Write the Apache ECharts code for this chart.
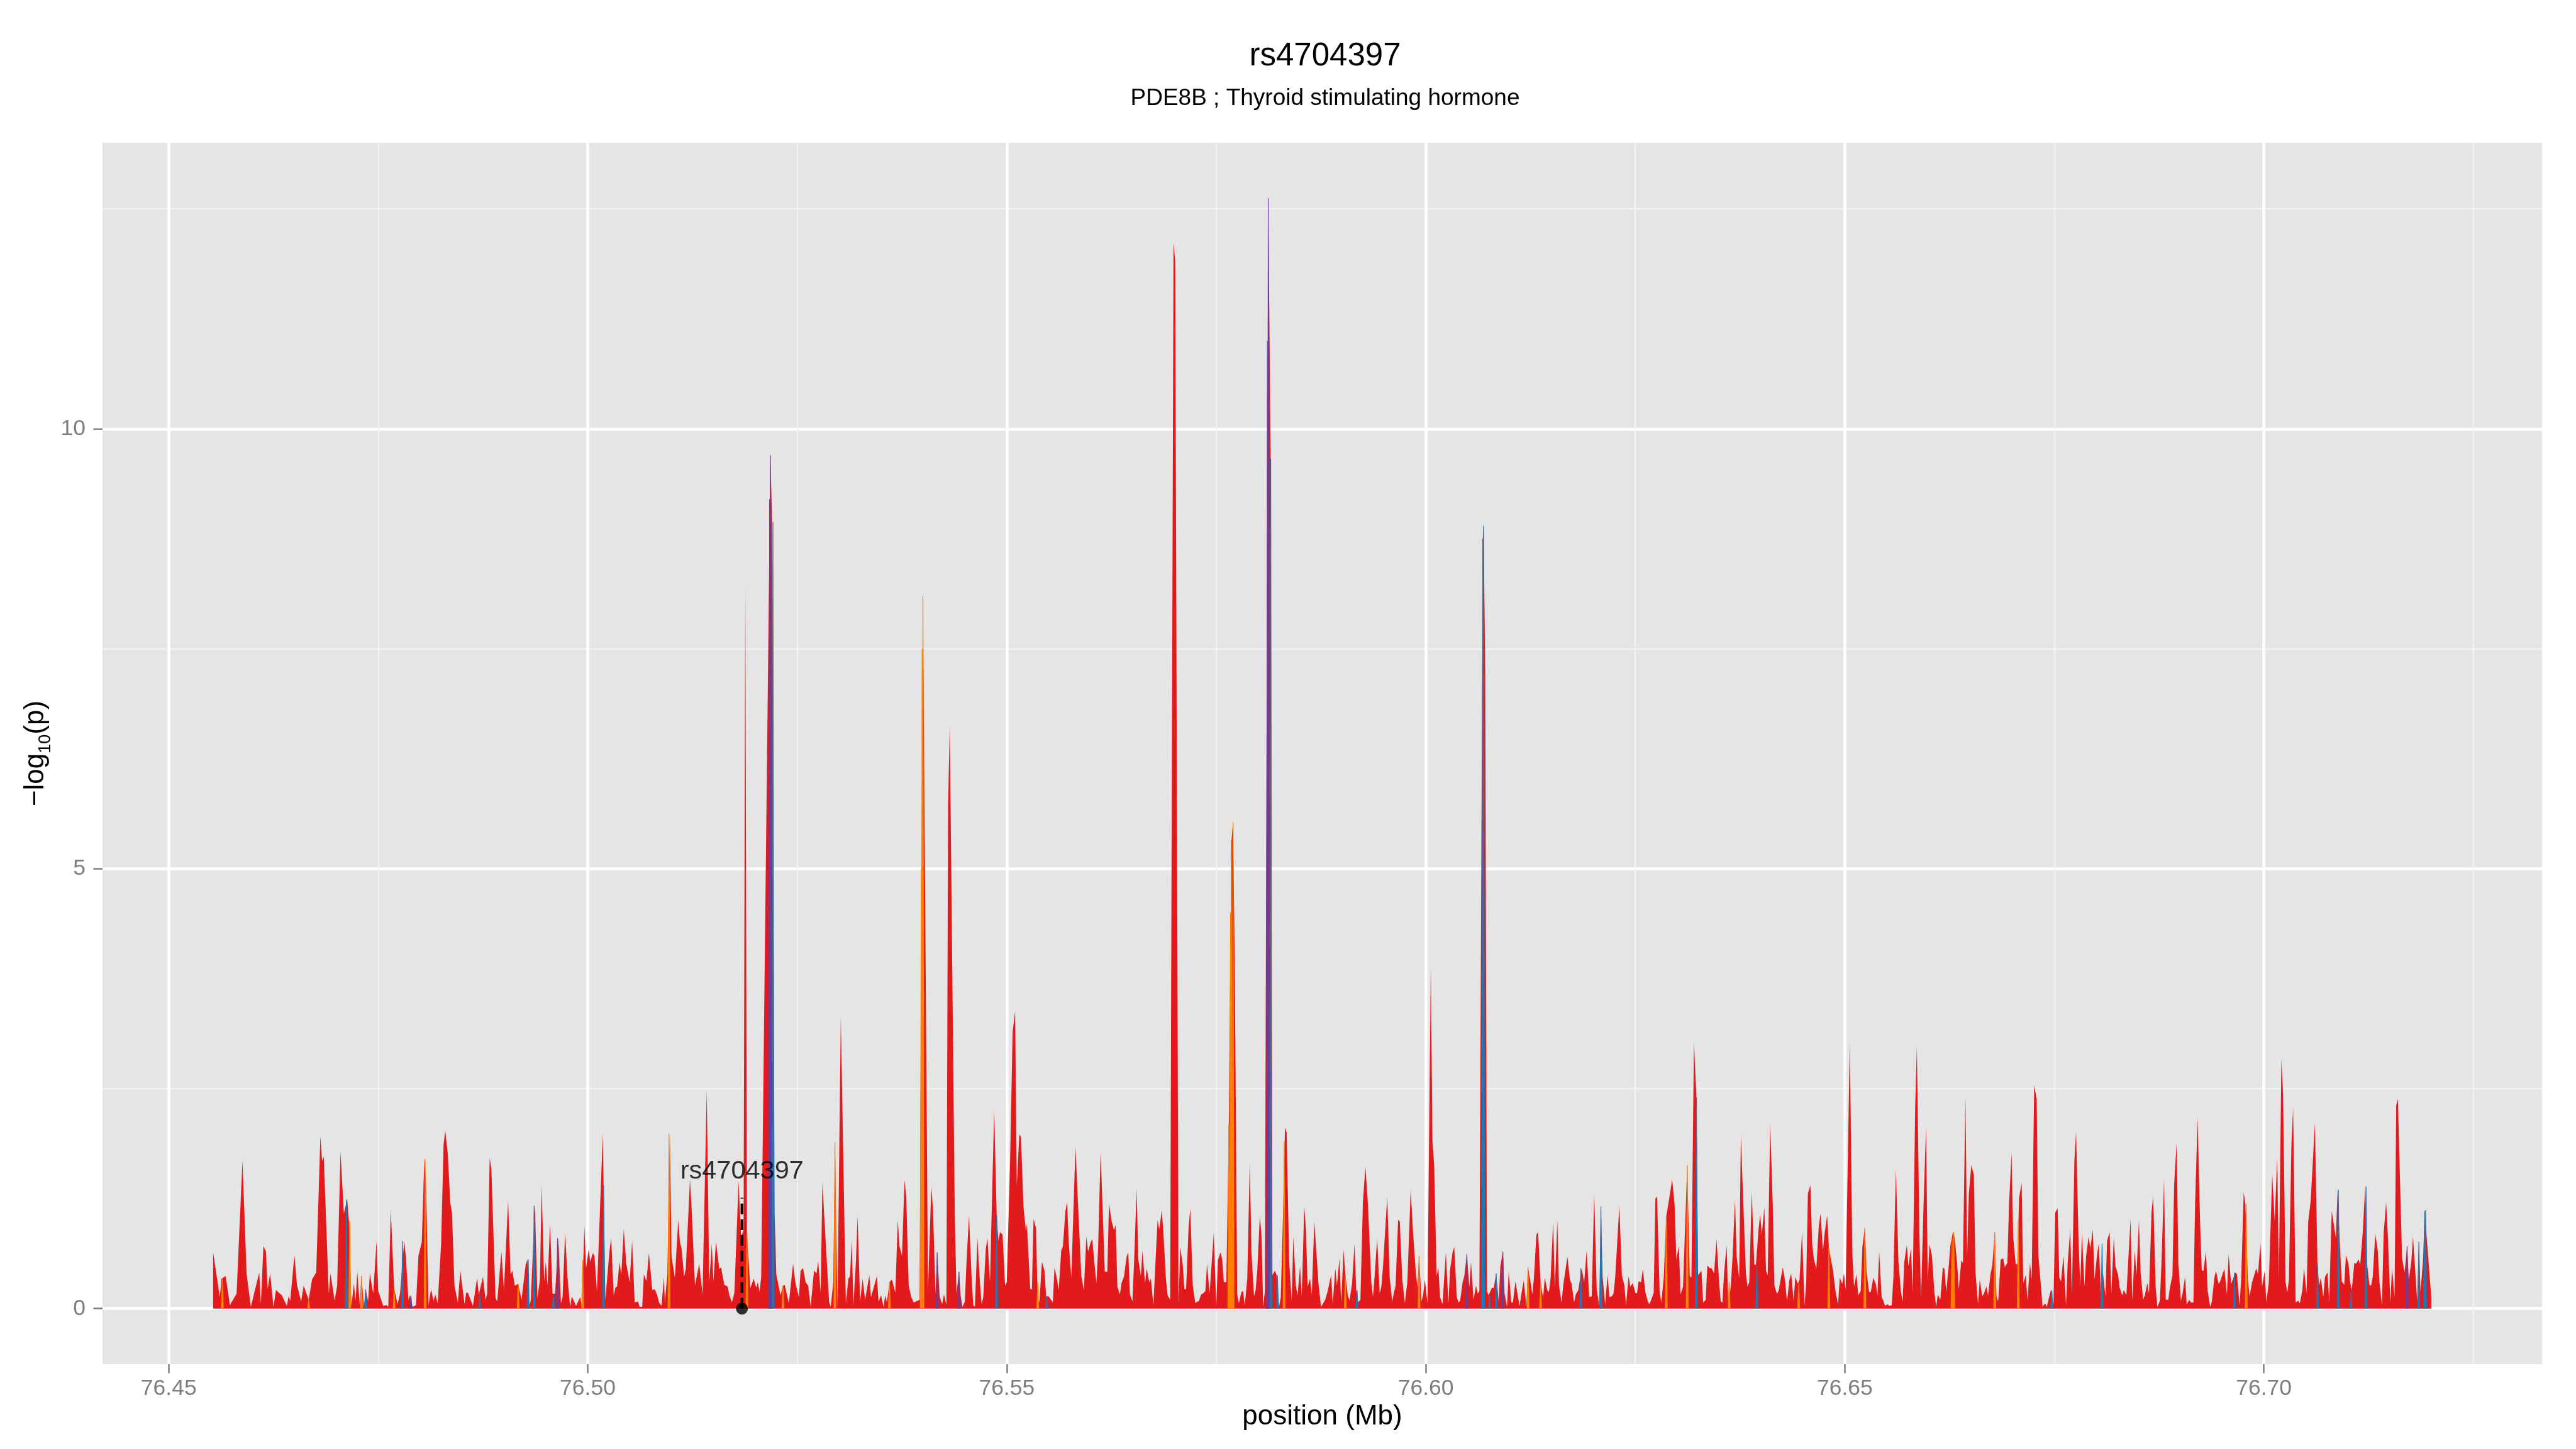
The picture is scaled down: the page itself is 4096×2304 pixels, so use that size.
<!DOCTYPE html>
<html>
<head>
<meta charset="utf-8">
<title>rs4704397</title>
<script src="https://cdn.jsdelivr.net/npm/echarts@6/dist/echarts.min.js"></script>
<style>
  html, body { margin: 0; padding: 0; background: #fff; }
  #plot { width: 4096px; height: 2304px; }
</style>
</head>
<body>
<div id="plot"></div>
<script>
// axis ticks (Mb and -log10 p)
const xTicks = [76.45, 76.50, 76.55, 76.60, 76.65, 76.70];
const xMinorTicks = [76.475, 76.525, 76.575, 76.625, 76.675, 76.725];
const yTicks = [0, 5, 10];
const yMinorTicks = [2.5, 7.5, 12.5];

// [position (Mb), -log10(p)]
const redSnps = [
  [76.4553,0.64],[76.4561,0.13],[76.4563,0.34],[76.4568,0.37],[76.4573,0.04],[76.4581,0.17],[76.4588,1.68],[76.4593,0.39],[76.4598,0.02],[76.4608,0.41],
  [76.4610,0.06],[76.4613,0.71],[76.4616,0.65],[76.4618,0.22],[76.4621,0.40],[76.4625,0.02],[76.4628,0.21],[76.4635,0.15],[76.4641,0.03],[76.4643,0.14],
  [76.4645,0.09],[76.4650,0.61],[76.4653,0.27],[76.4658,0.08],[76.4661,0.26],[76.4667,0.10],[76.4671,0.33],[76.4676,0.41],[76.4681,1.96],[76.4683,1.68],
  [76.4685,1.73],[76.4691,0.17],[76.4693,0.40],[76.4698,0.09],[76.4701,0.26],[76.4705,1.78],[76.4709,1.08],[76.4713,1.24],[76.4715,1.00],[76.4718,0.03],
  [76.4721,0.28],[76.4723,0.09],[76.4725,0.42],[76.4728,0.04],[76.4730,0.37],[76.4733,0.02],[76.4735,0.22],[76.4738,0.08],[76.4740,0.40],[76.4744,0.17],
  [76.4748,0.77],[76.4750,0.20],[76.4756,0.03],[76.4760,0.04],[76.4762,0.02],[76.4765,1.12],[76.4769,0.23],[76.4773,0.05],[76.4776,0.17],[76.4781,0.77],
  [76.4783,0.59],[76.4786,0.10],[76.4788,0.15],[76.4791,0.02],[76.4795,0.04],[76.4798,0.60],[76.4802,0.76],[76.4805,1.70],[76.4807,1.45],[76.4810,0.04],
  [76.4813,0.22],[76.4816,0.09],[76.4818,0.16],[76.4821,0.06],[76.4825,0.73],[76.4828,1.87],[76.4830,2.02],[76.4833,1.76],[76.4836,1.20],[76.4838,1.09],
  [76.4841,0.26],[76.4845,0.07],[76.4848,0.43],[76.4853,0.05],[76.4855,0.18],[76.4857,0.18],[76.4863,0.03],[76.4868,0.35],[76.4870,0.16],[76.4875,0.36],
  [76.4878,0.10],[76.4880,0.17],[76.4883,1.71],[76.4885,1.59],[76.4890,0.12],[76.4892,0.08],[76.4897,0.65],[76.4900,0.21],[76.4905,1.23],[76.4908,0.39],
  [76.4910,0.43],[76.4913,0.26],[76.4917,0.28],[76.4921,0.10],[76.4926,0.50],[76.4928,0.56],[76.4930,0.02],[76.4932,0.09],[76.4937,1.17],[76.4940,0.12],
  [76.4943,0.33],[76.4945,1.40],[76.4948,0.31],[76.4950,0.53],[76.4952,0.26],[76.4955,0.97],[76.4958,0.17],[76.4961,0.17],[76.4965,0.80],[76.4968,0.06],
  [76.4970,0.13],[76.4973,0.86],[76.4976,0.34],[76.4979,0.02],[76.4981,0.14],[76.4986,0.03],
  [76.4991,0.13],[76.4993,0.02],[76.4996,0.94],[76.4998,0.46],[76.5001,0.67],[76.5003,0.53],[76.5006,0.63],[76.5008,0.60],[76.5011,0.20],[76.5018,1.99],
  [76.5021,0.10],[76.5026,0.66],[76.5028,0.80],[76.5031,0.15],[76.5033,0.24],[76.5035,0.25],[76.5038,0.53],[76.5040,0.38],[76.5043,0.90],[76.5046,0.51],
  [76.5050,0.30],[76.5053,0.77],[76.5056,0.07],[76.5060,0.08],[76.5062,0.02],[76.5065,0.02],[76.5067,0.39],[76.5070,0.31],[76.5073,0.63],[76.5077,0.21],
  [76.5080,0.22],[76.5083,0.15],[76.5085,0.07],[76.5088,0.03],[76.5091,0.36],[76.5092,0.07],[76.5095,0.39],[76.5098,1.99],[76.5100,0.59],[76.5104,0.35],
  [76.5105,0.36],[76.5108,1.01],[76.5110,0.76],[76.5112,0.68],[76.5115,0.36],[76.5117,0.45],[76.5122,1.47],[76.5124,1.13],[76.5128,0.26],[76.5133,0.51],
  [76.5137,0.16],[76.5142,2.48],[76.5145,0.30],[76.5148,0.73],[76.5150,0.31],[76.5153,0.76],[76.5157,0.45],[76.5159,0.47],[76.5163,0.27],[76.5167,0.25],
  [76.5169,0.15],[76.5172,0.07],[76.5175,0.18],[76.5180,1.45],[76.5183,0.81],[76.5186,0.90],[76.5188,8.24],[76.5190,0.86],[76.5194,0.23],[76.5198,0.34],
  [76.5201,0.24],[76.5203,0.30],[76.5205,0.19],[76.5207,0.36],[76.5218,9.70],[76.5220,8.94],[76.5223,1.07],[76.5225,0.39],[76.5230,0.15],[76.5233,0.26],
  [76.5235,0.27],[76.5240,0.06],[76.5245,0.51],[76.5248,0.28],[76.5252,0.13],[76.5254,0.43],[76.5257,0.46],[76.5260,0.30],[76.5263,0.26],[76.5266,0.02],
  [76.5270,0.43],[76.5273,0.40],[76.5275,0.54],[76.5278,0.18],[76.5280,1.43],[76.5288,0.08],[76.5290,0.02],[76.5293,0.30],[76.5295,1.89],[76.5298,0.02],
  [76.5302,3.32],[76.5308,0.06],[76.5311,0.34],[76.5313,0.37],[76.5315,0.78],[76.5317,0.04],[76.5320,0.53],[76.5322,1.05],[76.5325,0.08],[76.5328,0.34],
  [76.5331,0.10],[76.5333,0.21],[76.5336,0.38],[76.5338,0.13],[76.5341,0.23],[76.5345,0.37],[76.5347,0.08],[76.5350,0.15],[76.5353,0.02],[76.5355,0.15],
  [76.5357,0.07],[76.5360,0.30],[76.5363,0.33],[76.5367,0.18],[76.5370,1.01],[76.5372,0.71],[76.5375,0.60],[76.5378,1.46],[76.5380,1.28],[76.5383,0.26],
  [76.5386,0.13],[76.5389,0.07],[76.5396,0.10],[76.5400,8.10],[76.5403,4.20],[76.5406,0.21],[76.5410,1.39],[76.5412,1.12],[76.5415,0.17],[76.5417,0.64],
  [76.5420,0.13],[76.5423,0.05],[76.5425,0.16],[76.5428,0.04],[76.5430,5.70],[76.5432,6.63],[76.5438,1.07],
  [76.5440,0.17],[76.5443,0.42],[76.5445,0.15],[76.5447,0.02],[76.5450,0.08],[76.5452,0.53],[76.5455,1.06],[76.5458,0.37],[76.5460,0.04],[76.5462,0.02],
  [76.5465,0.80],[76.5468,0.30],[76.5470,0.05],[76.5472,0.13],[76.5475,0.68],[76.5477,0.80],[76.5480,0.30],[76.5485,2.26],[76.5488,1.06],[76.5490,0.77],
  [76.5492,0.87],[76.5495,0.84],[76.5498,0.26],[76.5500,0.30],[76.5504,1.68],[76.5507,3.14],[76.5510,3.38],[76.5512,1.40],[76.5515,1.98],[76.5517,1.95],
  [76.5520,1.15],[76.5523,0.87],[76.5524,0.97],[76.5528,0.22],[76.5530,0.22],[76.5532,1.02],[76.5535,0.91],[76.5537,0.02],[76.5539,0.09],[76.5542,0.53],
  [76.5545,0.43],[76.5547,0.14],[76.5550,0.14],[76.5555,0.07],[76.5557,0.47],[76.5560,0.33],[76.5562,0.21],[76.5565,0.66],[76.5567,0.71],[76.5570,1.11],
  [76.5572,1.21],[76.5574,0.75],[76.5577,0.35],[76.5582,1.84],[76.5585,1.19],[76.5589,0.37],[76.5592,0.21],[76.5595,0.82],[76.5597,0.65],[76.5600,0.75],
  [76.5602,0.79],[76.5605,0.48],[76.5607,0.29],[76.5609,0.68],[76.5612,1.78],[76.5615,0.97],[76.5617,0.42],[76.5620,0.42],[76.5622,1.19],[76.5625,1.00],
  [76.5628,0.89],[76.5630,0.95],[76.5632,0.25],[76.5635,0.16],[76.5637,0.29],[76.5640,0.37],[76.5643,0.59],[76.5645,0.64],[76.5647,0.16],[76.5650,0.08],
  [76.5652,0.55],[76.5655,1.36],[76.5657,0.56],[76.5660,0.37],[76.5662,0.66],[76.5665,0.29],[76.5667,0.46],[76.5670,0.30],[76.5672,0.34],[76.5675,0.04],
  [76.5677,0.44],[76.5680,1.01],[76.5682,0.90],[76.5685,1.12],[76.5687,0.85],[76.5690,0.33],[76.5692,0.15],[76.5695,0.10],[76.5699,12.12],[76.5701,11.90],
  [76.5705,0.05],[76.5707,0.70],[76.5710,0.50],[76.5712,0.22],[76.5714,0.22],[76.5717,0.92],[76.5719,1.14],[76.5722,0.26],[76.5725,0.06],[76.5727,0.08],
  [76.5729,0.08],[76.5732,0.16],[76.5734,0.17],[76.5737,0.20],[76.5739,0.51],[76.5742,0.17],[76.5747,0.86],[76.5750,0.03],[76.5752,0.55],[76.5755,0.64],
  [76.5757,0.57],[76.5759,0.30],[76.5762,0.30],[76.5765,2.10],[76.5768,5.30],[76.5770,5.53],[76.5772,4.00],[76.5775,0.16],[76.5777,0.06],[76.5780,0.19],
  [76.5782,0.20],[76.5784,0.04],[76.5787,0.34],[76.5790,1.66],[76.5792,0.64],[76.5795,0.14],[76.5797,0.21],[76.5799,0.44],[76.5802,1.05],[76.5804,0.83],
  [76.5806,0.02],[76.5808,0.20],[76.5812,12.62],[76.5815,9.66],[76.5817,0.38],[76.5820,0.43],[76.5822,0.38],[76.5825,0.02],[76.5827,0.13],[76.5830,1.19],
  [76.5832,2.06],[76.5834,2.00],[76.5837,0.53],[76.5840,0.09],[76.5842,0.82],[76.5845,0.26],[76.5847,0.15],[76.5850,0.48],[76.5852,0.14],[76.5855,1.16],
  [76.5857,0.90],[76.5859,0.25],[76.5862,0.34],[76.5864,0.16],[76.5867,0.99],[76.5869,0.71],[76.5872,0.28],[76.5875,0.02],[76.5880,0.10],[76.5883,0.20],
  [76.5887,0.38],[76.5889,0.05],[76.5892,0.46],[76.5894,0.26],[76.5897,0.57],[76.5899,0.07],[76.5902,0.67],[76.5904,0.39],[76.5907,0.15],[76.5909,0.09],
  [76.5912,0.28],[76.5915,0.74],[76.5917,0.21],[76.5919,0.07],[76.5922,0.10],[76.5925,1.22],[76.5928,1.61],[76.5929,1.60],[76.5931,1.19],[76.5935,0.30],
  [76.5937,0.13],[76.5939,0.37],[76.5942,0.80],[76.5945,0.17],[76.5947,0.25],[76.5949,0.48],[76.5954,1.27],[76.5957,0.35],[76.5960,0.08],[76.5962,0.18],
  [76.5964,0.26],[76.5967,1.01],[76.5969,0.99],[76.5972,0.33],[76.5975,0.06],[76.5978,0.30],[76.5982,1.35],[76.5985,0.84],[76.5988,0.43],[76.5990,0.24],
  [76.5992,0.60],[76.5995,0.08],[76.5997,0.17],[76.5999,0.33],[76.6002,0.06],[76.6006,3.87],[76.6008,1.90],[76.6010,1.63],[76.6013,0.37],[76.6015,0.47],
  [76.6017,0.13],[76.6020,0.05],[76.6022,0.35],[76.6024,0.64],[76.6027,0.06],[76.6029,0.44],[76.6032,0.64],[76.6034,0.70],[76.6037,0.13],[76.6039,0.07],
  [76.6041,0.09],[76.6044,0.30],[76.6046,0.37],[76.6049,0.62],[76.6052,0.24],[76.6054,0.53],[76.6057,0.10],[76.6060,0.26],[76.6062,0.17],[76.6064,0.20],
  [76.6068,8.75],[76.6069,8.90],[76.6071,7.22],[76.6073,0.20],[76.6075,0.15],[76.6079,0.24],[76.6081,0.23],[76.6084,0.40],[76.6087,0.08],[76.6089,0.48],
  [76.6092,0.65],[76.6094,0.17],[76.6097,0.02],[76.6099,0.43],[76.6102,0.07],[76.6104,0.07],[76.6107,0.31],[76.6109,0.19],[76.6112,0.03],[76.6115,0.22],
  [76.6117,0.32],[76.6120,0.02],[76.6122,0.47],[76.6125,0.30],[76.6127,0.16],[76.6129,0.34],[76.6132,0.84],[76.6134,0.87],[76.6137,0.30],[76.6140,0.12],
  [76.6142,0.35],[76.6145,0.21],[76.6147,0.19],[76.6149,0.35],[76.6152,0.99],[76.6154,0.24],[76.6157,1.00],[76.6159,0.26],[76.6162,0.07],[76.6164,0.26],
  [76.6169,0.59],[76.6172,0.33],[76.6174,0.28],[76.6177,0.07],[76.6179,0.16],[76.6182,0.21],[76.6186,0.46],[76.6189,0.30],[76.6192,0.66],[76.6195,0.13],
  [76.6198,0.14],[76.6201,1.30],[76.6204,0.21],[76.6207,0.04],[76.6209,1.16],[76.6211,0.36],[76.6214,0.05],[76.6217,0.38],[76.6219,0.13],[76.6222,0.14],
  [76.6224,0.17],[76.6226,0.35],[76.6231,1.17],[76.6234,0.38],[76.6237,0.26],[76.6239,0.04],[76.6242,0.37],[76.6244,0.25],[76.6247,0.29],[76.6250,0.18],
  [76.6252,0.17],[76.6254,0.31],[76.6257,0.30],[76.6259,0.45],[76.6262,0.19],[76.6265,0.08],[76.6267,0.05],[76.6269,0.10],[76.6272,0.18],[76.6274,1.25],
  [76.6276,1.27],[76.6279,0.20],[76.6281,0.07],[76.6284,0.35],[76.6287,1.05],[76.6291,1.28],[76.6294,1.47],[76.6297,1.17],[76.6299,0.56],[76.6302,0.71],
  [76.6304,0.16],[76.6307,0.25],[76.6312,1.63],[76.6315,0.37],[76.6317,0.35],[76.6320,3.03],[76.6323,2.40],[76.6325,0.38],[76.6329,0.43],[76.6331,0.07],
  [76.6334,0.10],[76.6336,0.49],[76.6339,0.46],[76.6341,0.46],[76.6344,0.40],[76.6347,0.79],[76.6350,0.30],[76.6352,0.08],[76.6354,0.07],[76.6356,0.41],
  [76.6359,0.72],[76.6361,0.02],[76.6364,0.26],[76.6366,0.57],[76.6369,1.24],[76.6371,0.59],[76.6374,0.35],[76.6376,1.97],[76.6379,1.18],[76.6382,0.40],
  [76.6384,0.25],[76.6386,0.30],[76.6389,1.33],[76.6392,0.50],[76.6394,0.50],[76.6397,0.89],[76.6399,1.07],[76.6401,0.84],[76.6404,1.15],[76.6406,0.43],
  [76.6408,0.38],[76.6411,2.10],[76.6414,1.19],[76.6416,0.26],[76.6419,0.17],[76.6421,0.20],[76.6424,0.36],[76.6426,0.47],[76.6429,0.30],[76.6431,0.08],
  [76.6434,0.33],[76.6436,0.40],[76.6439,0.09],[76.6441,0.36],[76.6444,0.28],[76.6446,0.33],[76.6449,0.87],[76.6452,0.03],[76.6454,0.30],[76.6456,1.31],
  [76.6459,1.40],[76.6461,0.75],[76.6463,0.57],[76.6466,0.45],[76.6469,0.94],[76.6471,1.08],[76.6474,0.66],[76.6476,0.86],[76.6479,1.06],[76.6481,0.69],
  [76.6486,0.43],[76.6489,0.19],[76.6492,0.05],[76.6494,0.35],[76.6497,0.28],[76.6499,0.40],[76.6501,0.21],[76.6506,3.03],[76.6509,0.64],[76.6511,0.25],
  [76.6514,0.39],[76.6516,0.15],[76.6519,0.20],[76.6521,0.70],[76.6524,0.92],[76.6526,0.41],[76.6529,0.19],[76.6531,0.19],[76.6534,0.35],[76.6537,0.28],
  [76.6539,0.15],[76.6541,0.65],[76.6544,0.13],[76.6546,0.09],[76.6548,0.03],[76.6551,0.05],[76.6553,0.03],[76.6556,0.04],[76.6558,0.35],[76.6561,1.59],
  [76.6564,0.54],[76.6567,0.19],[76.6569,0.08],[76.6571,0.53],[76.6574,0.72],[76.6576,0.48],[76.6579,0.69],[76.6581,0.19],[76.6584,2.29],[76.6586,2.98],
  [76.6589,0.86],[76.6591,0.13],[76.6594,1.19],[76.6597,2.07],[76.6599,0.31],[76.6601,0.73],[76.6604,0.60],[76.6607,0.18],[76.6609,0.02],[76.6611,0.16],
  [76.6614,0.10],[76.6617,0.47],[76.6619,0.45],[76.6621,0.19],[76.6624,0.48],[76.6626,0.72],[76.6629,0.87],[76.6631,0.81],[76.6634,0.52],[76.6636,0.22],
  [76.6639,0.55],[76.6641,0.52],[76.6644,2.40],[76.6646,0.59],[76.6648,1.30],[76.6651,1.63],[76.6654,1.52],[76.6656,0.41],[76.6659,0.05],[76.6661,0.33],
  [76.6664,0.14],[76.6666,0.17],[76.6669,0.25],[76.6671,0.15],[76.6674,0.40],[76.6676,0.49],[76.6679,0.87],[76.6681,0.14],[76.6683,0.08],[76.6686,0.56],
  [76.6689,0.57],[76.6691,0.47],[76.6694,0.52],[76.6696,1.19],[76.6699,1.77],[76.6701,0.81],[76.6704,0.50],[76.6706,0.51],[76.6708,1.26],[76.6711,1.43],
  [76.6713,0.29],[76.6716,0.38],[76.6718,0.09],[76.6721,0.52],[76.6723,0.33],[76.6726,2.54],[76.6729,2.38],[76.6731,0.61],[76.6734,0.26],[76.6736,0.02],
  [76.6739,0.06],[76.6741,0.02],[76.6744,0.14],[76.6746,0.21],[76.6749,0.04],[76.6751,1.09],[76.6754,1.14],[76.6756,0.35],[76.6758,0.31],[76.6761,0.60],
  [76.6764,0.04],[76.6766,0.52],[76.6769,0.90],[76.6771,0.17],[76.6774,1.68],[76.6776,2.01],[76.6779,0.75],[76.6781,0.26],[76.6783,0.86],[76.6786,0.25],
  [76.6788,0.60],[76.6791,0.82],[76.6793,0.68],[76.6796,0.90],[76.6798,0.33],[76.6801,0.61],[76.6803,0.74],[76.6806,0.13],[76.6808,0.41],[76.6811,0.14],
  [76.6813,0.77],[76.6816,0.87],[76.6818,0.17],[76.6821,0.81],[76.6823,0.48],[76.6826,0.39],[76.6828,0.24],[76.6831,0.15],[76.6833,0.21],[76.6836,0.15],
  [76.6838,0.50],[76.6841,1.02],[76.6843,0.09],[76.6846,0.66],[76.6848,0.38],[76.6851,1.00],[76.6853,0.41],[76.6856,0.10],[76.6858,0.15],[76.6861,0.29],
  [76.6863,0.17],[76.6866,1.09],[76.6868,1.28],[76.6871,0.24],[76.6873,0.02],[76.6876,0.09],[76.6878,0.55],[76.6881,1.47],[76.6883,0.10],[76.6886,0.10],
  [76.6888,0.24],[76.6891,0.38],[76.6893,1.41],[76.6896,1.89],[76.6898,0.53],[76.6901,0.09],[76.6903,0.17],[76.6906,0.36],[76.6908,0.05],[76.6911,0.10],
  [76.6913,0.07],[76.6916,0.07],[76.6918,1.19],[76.6921,2.17],[76.6924,0.97],[76.6926,0.43],[76.6928,0.43],[76.6931,0.65],[76.6933,0.20],[76.6936,0.02],
  [76.6938,0.08],[76.6941,0.35],[76.6943,0.43],[76.6946,0.28],[76.6948,0.31],[76.6951,0.40],[76.6953,0.45],[76.6956,0.16],[76.6958,0.62],[76.6961,0.28],
  [76.6963,0.33],[76.6966,0.41],[76.6968,0.39],[76.6971,0.04],[76.6973,0.33],[76.6976,1.32],[76.6978,1.19],[76.6981,0.33],[76.6983,0.14],[76.6986,0.30],
  [76.6988,0.36],[76.6991,0.46],[76.6993,0.39],[76.6996,0.74],[76.6998,0.25],[76.7001,0.43],[76.7003,0.07],[76.7006,0.30],[76.7008,0.90],[76.7010,1.53],
  [76.7013,1.00],[76.7016,1.72],[76.7018,0.35],[76.7021,2.84],[76.7023,2.43],[76.7026,0.30],[76.7028,0.18],[76.7030,0.33],[76.7033,1.88],[76.7035,2.28],
  [76.7038,0.07],[76.7041,0.09],[76.7043,0.06],[76.7046,0.21],[76.7048,0.46],[76.7051,0.17],[76.7053,0.99],[76.7056,1.23],[76.7061,2.11],[76.7064,0.52],
  [76.7066,0.26],[76.7068,0.35],[76.7071,0.13],[76.7073,0.36],[76.7076,0.41],[76.7078,0.08],[76.7081,1.11],[76.7083,0.99],[76.7086,0.80],[76.7088,1.35],
  [76.7091,0.68],[76.7093,0.31],[76.7096,0.27],[76.7098,0.61],[76.7101,0.51],[76.7103,0.30],[76.7105,0.21],[76.7108,0.52],[76.7110,0.51],[76.7113,0.56],
  [76.7115,0.50],[76.7118,0.86],[76.7121,1.39],[76.7123,0.53],[76.7126,0.27],[76.7128,0.26],[76.7130,0.36],[76.7133,0.85],[76.7136,0.66],[76.7138,0.30],
  [76.7141,0.04],[76.7143,0.86],[76.7146,1.21],[76.7148,0.83],[76.7151,0.07],[76.7153,0.46],[76.7156,0.13],[76.7158,2.31],[76.7160,2.38],[76.7163,1.28],
  [76.7165,0.57],[76.7168,0.41],[76.7171,0.71],[76.7173,0.33],[76.7176,0.53],[76.7178,0.82],[76.7180,0.53],[76.7183,0.09],[76.7185,0.76],[76.7187,0.19],
  [76.7190,0.55],[76.7192,1.11],[76.7193,1.12],[76.7196,0.61],[76.7198,0.35],[76.7200,0.12]
];
const orangeSnps = [
  [76.4564,0.34],[76.4667,0.10],[76.4716,1.00],[76.4730,0.37],[76.4769,0.23],[76.4806,1.70],[76.4917,0.28],[76.4994,0.55],[76.5097,1.99],[76.5190,0.86],
  [76.5233,0.26],[76.5295,1.89],[76.5360,0.30],[76.5398,5.00],[76.5399,7.50],[76.5400,8.10],[76.5537,0.30],[76.5765,2.10],[76.5767,4.50],[76.5768,5.30],
  [76.5770,5.53],[76.5831,1.90],[76.5904,0.39],[76.5992,0.60],[76.6122,0.47],[76.6137,0.30],[76.6287,1.05],[76.6312,1.63],[76.6362,0.30],[76.6445,0.28],
  [76.6481,0.69],[76.6524,0.92],[76.6628,0.80],[76.6630,0.87],[76.6679,0.87],[76.6707,1.00],[76.6979,1.19]
];
const blueSnps = [
  [76.4712,1.24],[76.4735,0.22],[76.4779,0.77],[76.4871,0.16],[76.4929,0.56],[76.4936,1.17],[76.4959,0.17],[76.5019,1.40],[76.5221,8.94],[76.5488,1.06],
  [76.5548,0.14],[76.5815,9.66],[76.5823,0.38],[76.5918,0.21],[76.6068,8.75],[76.6069,8.90],[76.6076,0.15],[76.6084,0.40],[76.6185,0.46],[76.6209,1.16],
  [76.6323,2.40],[76.6395,0.50],[76.6747,0.21],[76.6807,0.74],[76.6965,0.41],[76.7064,0.52],[76.7089,1.35],[76.7104,0.21],[76.7122,1.39],[76.7185,0.76],
  [76.7192,1.11],[76.7193,1.12]
];
const purpleSnps = [
  [76.4789,0.15],[76.4964,0.80],[76.5217,9.20],[76.5218,9.70],[76.5417,0.64],[76.5443,0.42],[76.5811,11.00],[76.5812,12.62],[76.6049,0.62],[76.6092,0.65],
  [76.7171,0.71]
];

// lead variant marker
const leadSnp = 'rs4704397';
const leadPos = 76.5184;
const leadLineTop = 1.26;
const leadLabelY = 1.56;

const X_MIN = 76.4421, X_MAX = 76.7332;
const Y_MIN = -0.631, Y_MAX = 13.251;

const FONT = 'Liberation Sans';
const GREY = '#7F7F7F';
const RED = '#E31A1C', ORANGE = '#FF7F00', BLUE = '#1F78B4', PURPLE = '#6A3D9A';
const SPIKE_HALF = 2.2;

function spikeItem(params, api) {
  const tip = api.coord([api.value(0), api.value(1)]);
  const foot = api.coord([api.value(0), 0]);
  return {
    type: 'polygon',
    shape: {
      points: [
        [foot[0] - SPIKE_HALF, foot[1]],
        [tip[0] - 0.6, tip[1]],
        [tip[0] + 0.6, tip[1]],
        [foot[0] + SPIKE_HALF, foot[1]]
      ]
    },
    style: { fill: api.visual('color') },
    silent: true
  };
}

function spikeSeries(data, color) {
  return {
    type: 'custom',
    data: data,
    renderItem: spikeItem,
    itemStyle: { color: color },
    silent: true,
    z: 3
  };
}

const chart = echarts.init(document.getElementById('plot'));

const option = {
  animation: false,
  backgroundColor: '#FFFFFF',
  textStyle: { fontFamily: FONT },
  title: [
    {
      text: leadSnp,
      left: 2102, top: 59, textAlign: 'center',
      textStyle: { fontSize: 51, fontWeight: 'normal', color: '#000', fontFamily: FONT }
    },
    {
      text: 'PDE8B ; Thyroid stimulating hormone',
      left: 2102, top: 133, textAlign: 'center',
      textStyle: { fontSize: 37, fontWeight: 'normal', color: '#000', fontFamily: FONT }
    }
  ],
  grid: {
    left: 163, right: 54, top: 227, bottom: 135,
    show: true, backgroundColor: '#E5E5E5', borderWidth: 0
  },
  xAxis: [
    {
      type: 'value', min: X_MIN, max: X_MAX,
      name: 'position (Mb)', nameLocation: 'middle', nameGap: 61,
      nameTextStyle: { fontSize: 44, color: '#000', fontFamily: FONT },
      axisLine: { show: false, onZero: false },
      axisTick: { show: true, customValues: xTicks, length: 14.5, lineStyle: { color: GREY, width: 2.5 } },
      axisLabel: { customValues: xTicks, formatter: v => v.toFixed(2), fontSize: 35.5, color: GREY, margin: 21, fontFamily: FONT },
      splitLine: { show: true, showMinLine: true, showMaxLine: true, lineStyle: { color: '#FFFFFF', width: 4.5 } }
    },
    {
      type: 'value', min: X_MIN, max: X_MAX,
      axisLine: { show: false, onZero: false },
      axisTick: { show: false, customValues: xMinorTicks },
      axisLabel: { show: false, customValues: xMinorTicks },
      splitLine: { show: true, lineStyle: { color: '#F2F2F2', width: 2.3 } }
    }
  ],
  yAxis: [
    {
      type: 'value', min: Y_MIN, max: Y_MAX,
      name: '{n|\u2212log}{s|10}{n|(p)}', nameLocation: 'middle', nameGap: 68, nameRotate: 90,
      nameTextStyle: {
        fontSize: 44, color: '#000', fontFamily: FONT,
        rich: {
          n: { fontSize: 44, color: '#000', fontFamily: FONT },
          s: { fontSize: 27, color: '#000', fontFamily: FONT, padding: [30, 0, 0, 0] }
        }
      },
      axisLine: { show: false, onZero: false },
      axisTick: { show: true, customValues: yTicks, length: 14.5, lineStyle: { color: GREY, width: 2.5 } },
      axisLabel: { customValues: yTicks, fontSize: 35.5, color: GREY, margin: 27, fontFamily: FONT },
      splitLine: { show: true, showMinLine: true, showMaxLine: true, lineStyle: { color: '#FFFFFF', width: 4.5 } }
    },
    {
      type: 'value', min: Y_MIN, max: Y_MAX,
      axisLine: { show: false, onZero: false },
      axisTick: { show: false, customValues: yMinorTicks },
      axisLabel: { show: false, customValues: yMinorTicks },
      splitLine: { show: true, lineStyle: { color: '#F2F2F2', width: 2.3 } }
    }
  ],
  series: [
    {
      type: 'line',
      data: redSnps,
      symbol: 'none',
      showSymbol: false,
      sampling: null,
      lineStyle: { width: 0 },
      itemStyle: { color: RED },
      areaStyle: { color: RED, opacity: 1 },
      silent: true,
      z: 2
    },
    spikeSeries(orangeSnps, ORANGE),
    spikeSeries(blueSnps, BLUE),
    spikeSeries(purpleSnps, PURPLE),
    {
      type: 'line',
      data: [[leadPos, 0], [leadPos, leadLineTop]],
      symbol: 'none',
      lineStyle: { color: '#000', width: 4.3, type: [17, 8] },
      silent: true,
      z: 5
    },
    {
      type: 'scatter',
      data: [[leadPos, 0]],
      symbolSize: 19,
      itemStyle: { color: '#000' },
      silent: true,
      z: 6
    },
    {
      type: 'scatter',
      data: [[leadPos, leadLabelY]],
      symbolSize: 0,
      label: { show: true, position: 'inside', formatter: leadSnp, fontSize: 41.5, color: '#000', fontFamily: FONT },
      silent: true,
      z: 6
    }
  ]
};

chart.setOption(option);
</script>
</body>
</html>
